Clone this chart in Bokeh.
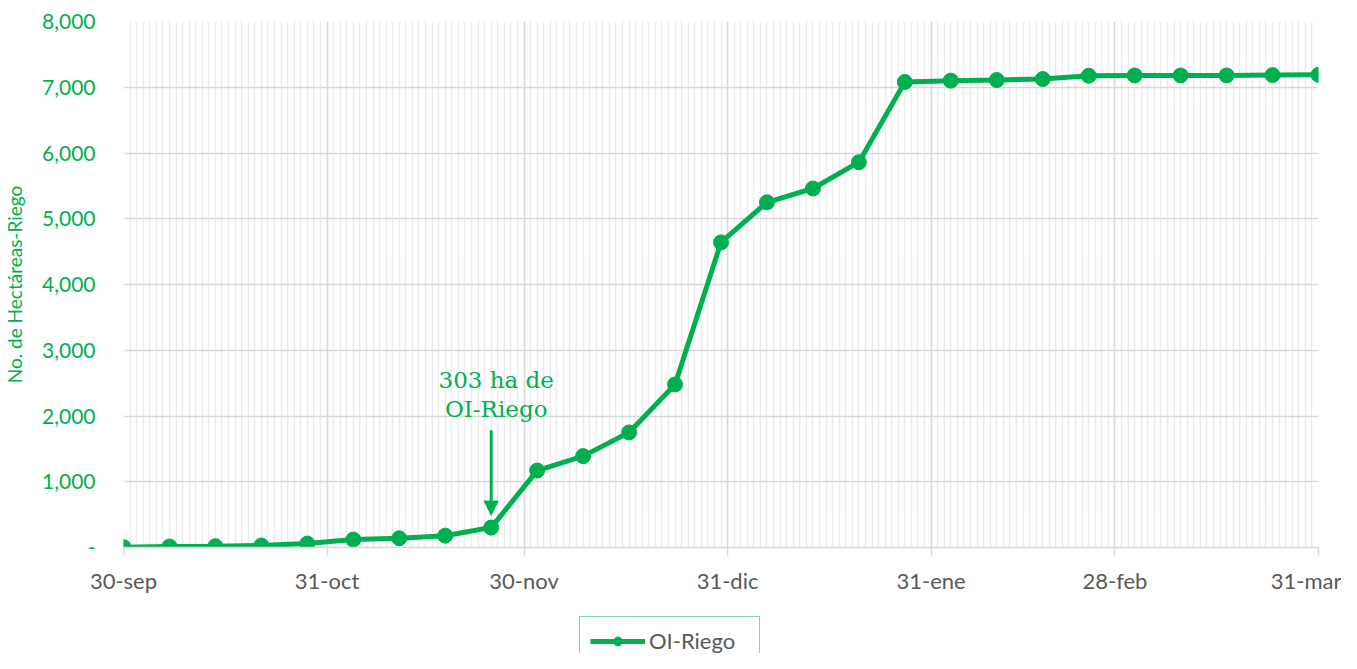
import pandas as pd
from bokeh.plotting import figure
from bokeh.layouts import column
from bokeh.models import Range1d, FixedTicker, Legend, LegendItem, Arrow, NormalHead, Label
from bokeh.embed import file_html
from bokeh.resources import INLINE

# ---------------- data ----------------
dates = ["2020-09-30", "2020-10-07", "2020-10-14", "2020-10-21", "2020-10-28",
         "2020-11-04", "2020-11-11", "2020-11-18", "2020-11-25", "2020-12-02",
         "2020-12-09", "2020-12-16", "2020-12-23", "2020-12-30", "2021-01-06",
         "2021-01-13", "2021-01-20", "2021-01-27", "2021-02-03", "2021-02-10",
         "2021-02-17", "2021-02-24", "2021-03-03", "2021-03-10", "2021-03-17",
         "2021-03-24", "2021-03-31"]
values = [5, 15, 20, 30, 60, 120, 140, 180, 303, 1170,
          1390, 1750, 2480, 4640, 5250, 5460, 5860, 7080, 7100, 7110,
          7125, 7175, 7180, 7180, 7180, 7185, 7190]
series_name = "OI-Riego"

tick_dates = ["2020-09-30", "2020-10-31", "2020-11-30", "2020-12-31",
              "2021-01-31", "2021-02-28", "2021-03-31"]
tick_labels = ["30-sep", "31-oct", "30-nov", "31-dic", "31-ene", "28-feb", "31-mar"]
y_ticks = [0, 1000, 2000, 3000, 4000, 5000, 6000, 7000, 8000]
y_labels = ["-", "1,000", "2,000", "3,000", "4,000", "5,000", "6,000", "7,000", "8,000"]
y_title = "No. de Hectáreas-Riego"

annot_date = "2020-11-25"
annot_value = 303
annot_lines = ["303 ha de", "OI-Riego"]

# ---------------- styling ----------------
GREEN = "#00B050"
GRAY_TXT = "#595959"
FONT = "Lato"

origin = pd.Timestamp(tick_dates[0])
x = [(pd.Timestamp(d) - origin).days for d in dates]
xt = [(pd.Timestamp(d) - origin).days for d in tick_dates]
ax = (pd.Timestamp(annot_date) - origin).days

p = figure(width=1341, height=600, output_backend="svg", toolbar_location=None,
           x_range=Range1d(xt[0], xt[-1]), y_range=Range1d(y_ticks[0], y_ticks[-1]),
           min_border_left=121, min_border_right=23, min_border_top=21,
           min_border_bottom=53)
p.outline_line_color = None
p.background_fill_color = "white"

# x axis
p.xaxis.ticker = FixedTicker(ticks=xt, minor_ticks=list(range(xt[0], xt[-1] + 1)))
p.xaxis.major_label_overrides = {t: l for t, l in zip(xt, tick_labels)}
p.xaxis.major_label_text_font = FONT
p.xaxis.major_label_text_font_size = "22px"
p.xaxis.major_label_text_color = GRAY_TXT
p.xaxis.major_label_standoff = 11
p.xaxis.axis_line_color = "#d9d9d9"
p.xaxis.axis_line_width = 1.5
p.xaxis.major_tick_line_color = "#d9d9d9"
p.xaxis.major_tick_line_width = 1.5
p.xaxis.major_tick_out = 8
p.xaxis.major_tick_in = 0
p.xaxis.minor_tick_line_color = None

# y axis
p.yaxis.ticker = FixedTicker(ticks=y_ticks)
p.yaxis.major_label_overrides = {t: l for t, l in zip(y_ticks, y_labels)}
p.yaxis.major_label_text_font = FONT
p.yaxis.major_label_text_font_size = "21px"
p.yaxis.major_label_text_color = GREEN
p.yaxis.major_label_standoff = 22
p.yaxis.axis_line_color = None
p.yaxis.major_tick_line_color = None
p.yaxis.minor_tick_line_color = None
p.yaxis.axis_label = y_title
p.yaxis.axis_label_text_font = FONT
p.yaxis.axis_label_text_font_style = "normal"
p.yaxis.axis_label_text_font_size = "19px"
p.yaxis.axis_label_text_color = GREEN
p.yaxis.axis_label_standoff = 13

# grids
p.xgrid.grid_line_color = "#d9d9d9"
p.xgrid.grid_line_width = 1.5
p.xgrid.minor_grid_line_color = "#ececec"
p.xgrid.minor_grid_line_width = 1.5
p.ygrid.grid_line_color = "#d9d9d9"
p.ygrid.grid_line_width = 1.5

# series
p.line(x, values, line_color=GREEN, line_width=5)
p.scatter(x, values, size=15, fill_color=GREEN, line_color=GREEN)

# annotation
p.add_layout(Arrow(end=NormalHead(size=14, fill_color=GREEN, line_color=GREEN),
                   x_start=ax, y_start=annot_value + 1480,
                   x_end=ax, y_end=annot_value + 190,
                   line_color=GREEN, line_width=3))
for i, txt in enumerate(annot_lines):
    p.add_layout(Label(x=ax, y=annot_value + 2240 - i * 430, text=txt,
                       x_offset=5, text_align="center", text_baseline="middle",
                       text_font="DejaVu Serif", text_font_size="23px",
                       text_color=GREEN))

# legend strip below the chart (dummy renderers live outside the visible range)
p2 = figure(width=1341, height=53, output_backend="svg", toolbar_location=None,
            x_range=Range1d(0, 1), y_range=Range1d(0, 1), min_border=0)
p2.axis.visible = False
p2.grid.visible = False
p2.outline_line_color = None
ln2 = p2.line(x=[-5, -4], y=[-5, -4], line_color=GREEN, line_width=5)
sc2 = p2.scatter(x=[-5], y=[-5], size=13, fill_color=GREEN, line_color=GREEN)
legend = Legend(items=[LegendItem(label=series_name, renderers=[ln2, sc2])],
                orientation="horizontal", location=(456, -12),
                border_line_color=GREEN, border_line_width=1.5,
                label_text_font=FONT, label_text_font_size="22px",
                label_text_color=GRAY_TXT, glyph_width=55, glyph_height=22,
                label_width=100, label_standoff=4,
                padding=10, spacing=0, margin=0)
p2.add_layout(legend, "center")

layout = column(p, p2, spacing=0)
open("out.html", "w").write(file_html(layout, INLINE))
